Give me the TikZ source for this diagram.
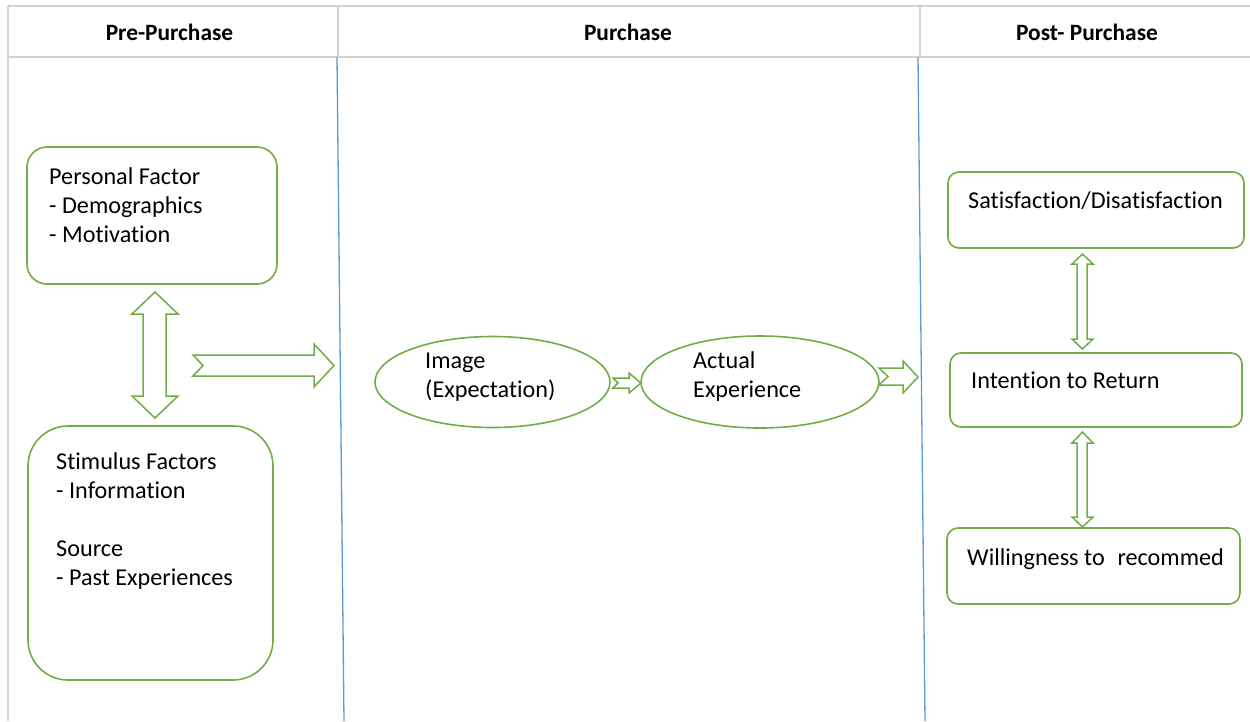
\documentclass[tikz,border=0pt]{standalone}
\usepackage{fontspec}
\setmainfont{Carlito}[Ligatures=NoCommon]
\usetikzlibrary{shapes.geometric}
\definecolor{grn}{HTML}{70AD47}
\definecolor{bl}{HTML}{5B9BD5}
\definecolor{gry}{HTML}{D3D3D3}
\tikzset{
  frame/.style={draw=gry, line width=1.8pt},
  lane/.style={draw=bl, line width=1.3pt},
  gbox/.style={draw=grn, line width=1.6pt, fill=white, rectangle, inner sep=0pt},
  gell/.style={draw=grn, line width=1.6pt, ellipse, inner sep=0pt},
  blockarrow/.style={draw=grn, line width=1.5pt, fill=white, line join=miter},
  hdr/.style={font=\fontsize{23.4}{28}\selectfont\bfseries, inner sep=0pt, anchor=base},
  txt/.style={font=\fontsize{24.2}{29}\selectfont, inner sep=0pt, anchor=base west},
}
\newcommand{\lines}[1]{\begin{tabular}[t]{@{}l@{}}#1\end{tabular}}
\begin{document}
\begin{tikzpicture}[x=1pt,y=-1pt]
\useasboundingbox (0,0) rectangle (1250,721);
% frame
\draw[frame] (8,6) -- (1250,6);
\draw[frame] (8,57) -- (1250,57);
\draw[frame] (8,6) -- (8,721);
\draw[frame] (338,6) -- (338,57);
\draw[frame] (920,6) -- (920,57);
\draw[lane] (337,57) -- (344,721);
\draw[lane] (918,57) -- (925,721);
% headers
\node[hdr] (h1) at (169.5,40) {Pre-Purchase};
\node[hdr] (h2) at (628,40) {Purchase};
\node[hdr] (h3) at (1087,40) {Post- Purchase};
% left boxes
\node[gbox, rounded corners=20pt, minimum width=250pt, minimum height=137pt] (pf) at (152,215.5) {};
\node[gbox, rounded corners=40pt, minimum width=245pt, minimum height=254pt] (sf) at (150.5,553) {};
\node[txt] (pft) at (49,184) {\lines{Personal Factor\\- Demographics\\- Motivation}};
\node[txt] (sft) at (56,469) {\lines{Stimulus Factors\\- Information\\ \\Source\\- Past Experiences}};
% ellipses
\node[gell, minimum width=235pt, minimum height=91pt] (im) at (492.5,382) {};
\node[gell, minimum width=238pt, minimum height=92pt] (ae) at (760,382) {};
\node[txt] (imt) at (425,368.5) {\lines{Image\\(Expectation)}};
\node[txt] (aet) at (693,368.5) {\lines{Actual\\Experience}};
% right boxes
\node[gbox, rounded corners=11pt, minimum width=296pt, minimum height=76pt] (sat) at (1096,210) {};
\node[gbox, rounded corners=11pt, minimum width=292pt, minimum height=74pt] (ret) at (1096,390) {};
\node[gbox, rounded corners=11pt, minimum width=293pt, minimum height=76pt] (rec) at (1093.5,566) {};
\node[txt] (satt) at (968,208.5) {Satisfaction/Disatisfaction};
\node[txt] (rett) at (971,388) {Intention to Return};
\node[txt] (rect) at (967,565.5) {Willingness to\hspace{0.3em} recommed};
% block arrows
\draw[blockarrow] (155,292) -- (178,314) -- (166,314) -- (166,396) -- (178,396) -- (155,418)
  -- (132,396) -- (143,396) -- (143,314) -- (132,314) -- cycle;
\draw[blockarrow] (193,355) -- (314,355) -- (314,344) -- (334,365.5) -- (314,387) -- (314,376)
  -- (193,376) -- (203,365.5) -- cycle;
\draw[blockarrow] (613,378) -- (629,378) -- (629,373) -- (641,383) -- (629,393) -- (629,388)
  -- (613,388) -- (618,383) -- cycle;
\draw[blockarrow] (879,368) -- (903,368) -- (903,361) -- (918,377) -- (903,393) -- (903,385)
  -- (879,385) -- (888,376.5) -- cycle;
\draw[blockarrow] (1082.5,254) -- (1093,264) -- (1087,264) -- (1087,339) -- (1093,339) -- (1082.5,349)
  -- (1072,339) -- (1077,339) -- (1077,264) -- (1072,264) -- cycle;
\draw[blockarrow] (1082.5,432) -- (1093,443) -- (1087,443) -- (1087,517) -- (1093,517) -- (1082.5,527)
  -- (1072,517) -- (1077,517) -- (1077,443) -- (1072,443) -- cycle;
\end{tikzpicture}
\end{document}
